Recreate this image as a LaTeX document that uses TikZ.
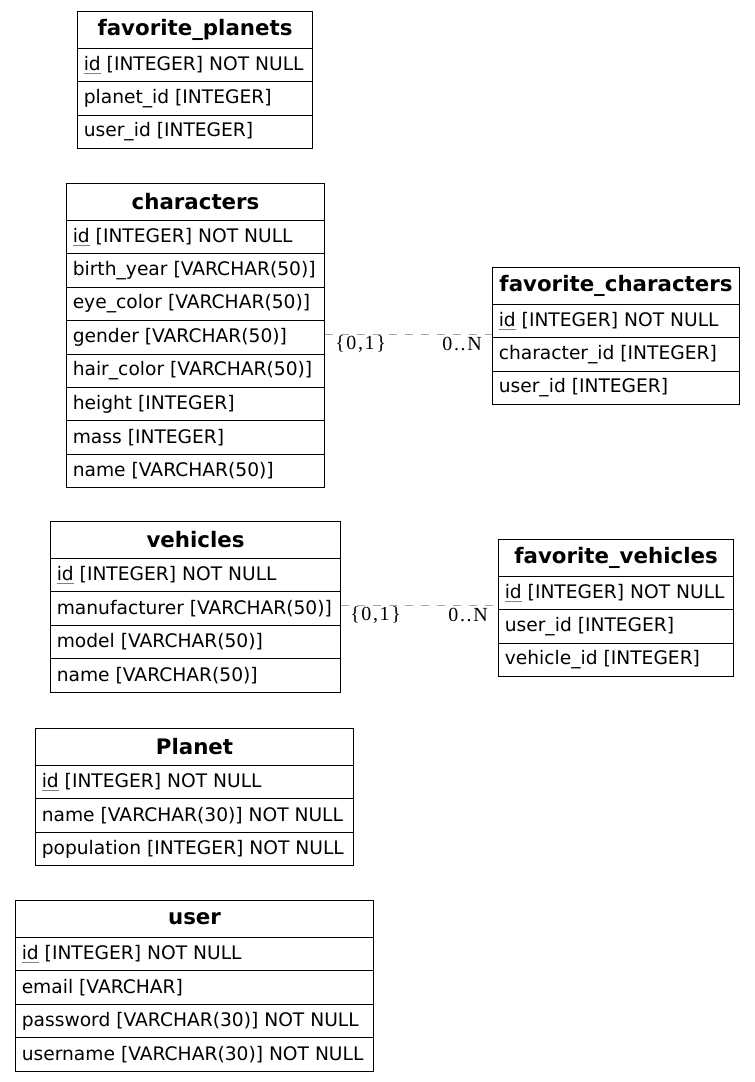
\documentclass[tikz,border=0pt]{standalone}
\usepackage{fontspec}
\setmainfont{DejaVu Sans}
\newfontfamily\lblfont[LetterSpace=8]{Liberation Serif}
\begin{document}
\begin{tikzpicture}[x=0.75pt,y=-0.75pt,
  box/.style={draw=black, line width=0.8pt, inner sep=0pt, fill=white},
  rowtext/.style={anchor=west, inner sep=0pt, font=\fontsize{14pt}{16pt}\selectfont},
  hdrtext/.style={inner sep=0pt, font=\fontsize{16pt}{18pt}\selectfont\bfseries},
  rel/.style={draw=gray!70, line width=0.8pt, dash pattern=on 6pt off 6pt},
  card/.style={inner sep=0pt, font=\lblfont\fontsize{15pt}{17pt}\selectfont}]
\useasboundingbox (0,0) rectangle (755,1082);
\newcommand\tbl[6]{%
  \node[box, minimum width=#4*0.75pt, minimum height=37*0.75pt, anchor=north west] (#1) at (#2,#3) {};
  \node[hdrtext] (#1-t) at (#1.center) {#5};
  \foreach \t [count=\i] in {#6} {
    \node[box, minimum width=#4*0.75pt, minimum height=33.4*0.75pt, anchor=north west] (#1-\i) at (#2,{#3+37+(\i-1)*33.4}) {};
    \node[rowtext] (#1-\i-t) at ([xshift=6.5*0.75pt]#1-\i.west) {\t};
  }%
}
\newcommand\pk{\setbox0\hbox{id}\rlap{\color{gray}\rule[-2.6pt]{\wd0}{0.7pt}}id}
\tbl{fp}{77}{11}{235}{favorite\_planets}{{\pk{} [INTEGER] NOT NULL},{planet\_id [INTEGER]},{user\_id [INTEGER]}}
\tbl{ch}{66}{183}{258}{characters}{{\pk{} [INTEGER] NOT NULL},{birth\_year [VARCHAR(50)]},{eye\_color [VARCHAR(50)]},{gender [VARCHAR(50)]},{hair\_color [VARCHAR(50)]},{height [INTEGER]},{mass [INTEGER]},{name [VARCHAR(50)]}}
\tbl{fc}{492}{267}{247}{favorite\_characters}{{\pk{} [INTEGER] NOT NULL},{character\_id [INTEGER]},{user\_id [INTEGER]}}
\tbl{ve}{50}{521}{290}{vehicles}{{\pk{} [INTEGER] NOT NULL},{manufacturer [VARCHAR(50)]},{model [VARCHAR(50)]},{name [VARCHAR(50)]}}
\tbl{fv}{498}{539}{235}{favorite\_vehicles}{{\pk{} [INTEGER] NOT NULL},{user\_id [INTEGER]},{vehicle\_id [INTEGER]}}
\tbl{pl}{35}{728}{318}{Planet}{{\pk{} [INTEGER] NOT NULL},{name [VARCHAR(30)] NOT NULL},{population [INTEGER] NOT NULL}}
\tbl{us}{15}{900}{358}{user}{{\pk{} [INTEGER] NOT NULL},{email [VARCHAR]},{password [VARCHAR(30)] NOT NULL},{username [VARCHAR(30)] NOT NULL}}
% relations
\draw[rel] ([yshift=2.25pt]ch-4.east) -- ([yshift=2.25pt]ch-4.east -| fc-1.west);
\node[card, anchor=west] (c1a) at (335,344) {\{0,1\}};
\node[card, anchor=east] (c1b) at (482,344) {0..N};
\draw[rel] ([yshift=2.25pt]ve-2.east) -- ([yshift=2.25pt]ve-2.east -| fv-1.west);
\node[card, anchor=west] (c2a) at (350,615) {\{0,1\}};
\node[card, anchor=east] (c2b) at (488,615) {0..N};
\end{tikzpicture}
\end{document}
